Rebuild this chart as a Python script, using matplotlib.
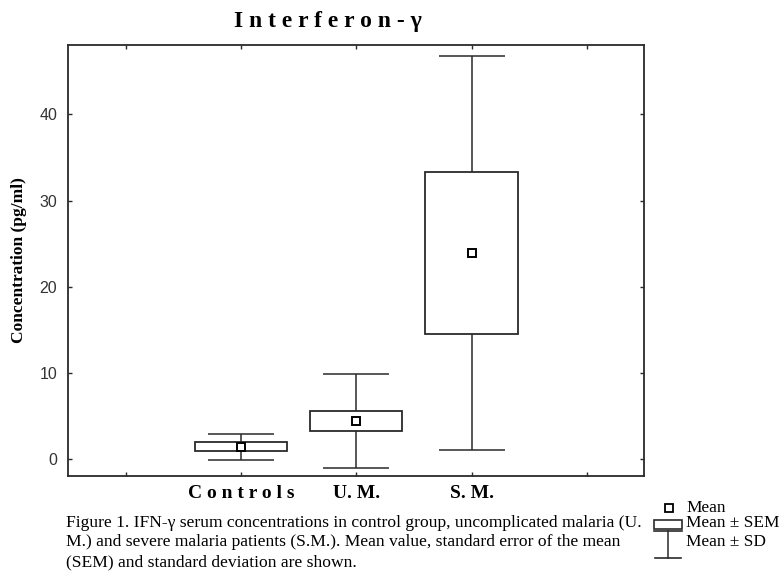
import matplotlib
matplotlib.use("Agg")
import matplotlib.pyplot as plt
from matplotlib.lines import Line2D
from matplotlib.patches import Rectangle

# data (pg/ml)
groups = ["C o n t r o l s", "U. M.", "S. M."]
positions = [1, 2, 3]
means = [1.45, 4.45, 23.9]
sems = [0.57, 1.17, 9.4]
sds = [1.5, 5.45, 22.9]

caption = [
    "Figure 1. IFN-\u03b3 serum concentrations in control group, uncomplicated malaria (U.",
    "M.) and severe malaria patients (S.M.). Mean value, standard error of the mean",
    "(SEM) and standard deviation are shown.",
]

W, H = 781, 582
ink = "#2a2a2a"
serif = "Liberation Serif"

fig = plt.figure(figsize=(W / 100, H / 100), dpi=100)
ax = fig.add_axes([68.3 / W, 1 - 476.3 / H, 576 / W, 431.6 / H])

# whiskers (mean +/- SD), then SEM boxes on top, then mean squares
ax.errorbar(positions, means, yerr=sds, fmt="none", ecolor=ink,
            elinewidth=1.1, capsize=23.5, capthick=1.1, zorder=1)
ax.bar(positions, [2 * s for s in sems], bottom=[m - s for m, s in zip(means, sems)],
       width=0.8, color="white", edgecolor=ink, linewidth=1.3, zorder=2)
ax.plot(positions, means, ls="none", marker="s", ms=6.3, mfc="white",
        mec="black", mew=1.4, zorder=3)

ax.set_xlim(-0.5, 4.5)
ax.set_ylim(-2.0, 48.1)
ax.set_xticks([0, 1, 2, 3, 4])
ax.set_xticklabels([""] + groups + [""], fontfamily=serif, fontweight="bold", fontsize=14)
ax.set_yticks([0, 10, 20, 30, 40])
for lab in ax.get_yticklabels():
    lab.set_fontfamily("Liberation Sans")
    lab.set_fontsize(11.5)
    lab.set_color("#333333")
ax.tick_params(axis="both", direction="in", length=3, width=1, color=ink,
               top=True, right=True)
ax.tick_params(axis="y", pad=8)
ax.tick_params(axis="x", pad=6)
for sp in ax.spines.values():
    sp.set_linewidth(1.3)
    sp.set_color(ink)

ax.set_ylabel("Concentration (pg/ml)", fontfamily=serif, fontweight="bold", fontsize=12.5)
ax.yaxis.set_label_coords(-0.072, 0.5)

fig.text(328 / W, 1 - 22 / H, "I n t e r f e r o n - \u03b3", ha="center", va="center",
         fontfamily=serif, fontweight="bold", fontsize=17)

for i, line in enumerate(caption):
    fig.text(66 / W, 1 - (523 + 19.5 * i) / H, line, ha="left", va="center",
             fontfamily=serif, fontsize=12.6)

# hand-made key at the lower right
def fx(px):
    return px / W

def fy(py):
    return 1 - py / H

fig.add_artist(Line2D([fx(668.5)], [fy(508)], marker="s", ms=6, mfc="white",
                      mec="black", mew=1.3, ls="none"))
fig.add_artist(Rectangle((fx(654), fy(528.5)), fx(682) - fx(654), fy(520) - fy(528.5),
                         facecolor="white", edgecolor=ink, linewidth=1.2))
fig.add_artist(Line2D([fx(654), fx(682)], [fy(531), fy(531)], color=ink, lw=1.2))
fig.add_artist(Line2D([fx(668), fx(668)], [fy(531), fy(558)], color=ink, lw=1.1))
fig.add_artist(Line2D([fx(655), fx(681)], [fy(558), fy(558)], color=ink, lw=1.2))
for txt, yy in [("Mean", 508), ("Mean \u00b1 SEM", 523), ("Mean \u00b1 SD", 542)]:
    fig.text(fx(686), fy(yy), txt, ha="left", va="center", fontfamily=serif, fontsize=12.4)

fig.savefig("out.png", dpi=100)
